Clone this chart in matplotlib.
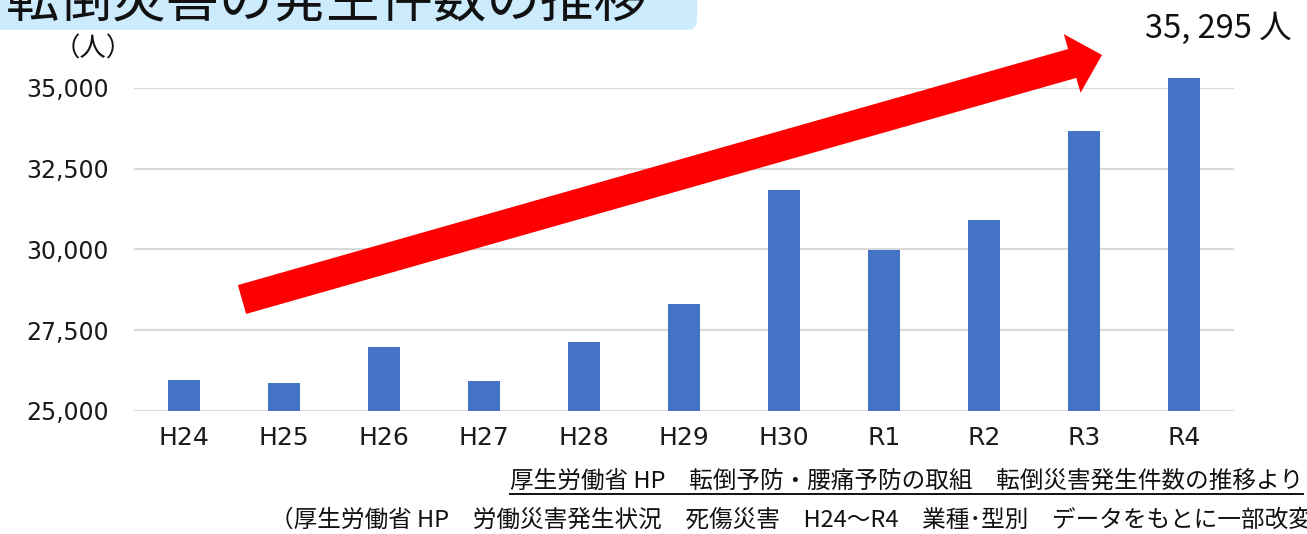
import numpy as np
import matplotlib
matplotlib.use("Agg")
import matplotlib.pyplot as plt
from matplotlib import font_manager
from matplotlib.patches import Polygon, FancyBboxPatch
from matplotlib.lines import Line2D

plt.rcParams['font.family'] = ['DejaVu Sans', 'Noto Sans CJK JP']

# ---- data ----
categories = ["H24", "H25", "H26", "H27", "H28", "H29", "H30", "R1", "R2", "R3", "R4"]
values = [25950, 25880, 26990, 25940, 27140, 28320, 31850, 29990, 30920, 33680, 35295]
yticks = [25000, 27500, 30000, 32500, 35000]
title = "転倒災害の発生件数の推移"
unit_label = "（人）"
callout = "35, 295 人"
source1 = "厚生労働省 HP　転倒予防・腰痛予防の取組　転倒災害発生件数の推移より"
source2 = "（厚生労働省 HP　労働災害発生状況　死傷災害　H24～R4　業種･型別　データをもとに一部改変）"

W, H = 1307, 534
fig = plt.figure(figsize=(W / 100, H / 100), dpi=100)
fig.patch.set_facecolor("white")

def px(x, y):
    """image pixel coords (y down) -> inches for dpi_scale_trans"""
    return (x / 100.0, (H - y) / 100.0)

ax = fig.add_axes([134 / W, (H - 411) / H, 1100 / W, (411 - 88) / H])
x = np.arange(len(categories))
base = yticks[0]
ax.bar(x, np.array(values) - base, bottom=base, width=0.32, color="#4472C4",
       clip_on=False, zorder=3)
ax.set_xlim(-0.5, len(categories) - 0.5)
ax.set_ylim(yticks[0], yticks[-1])
ax.set_yticks(yticks)
ax.set_yticklabels([f"{v:,}" for v in yticks])
ax.set_xticks(x)
ax.set_xticklabels(categories)
for s in ax.spines.values():
    s.set_visible(False)
ax.yaxis.grid(True, color="#D9D9D9", lw=1.6)
ax.set_axisbelow(True)
ax.tick_params(axis="y", length=0, pad=18, labelsize=17, labelcolor="#1a1a1a")
ax.tick_params(axis="x", length=0, pad=11, labelsize=18, labelcolor="#1a1a1a")
ax.set_facecolor("none")

# ---- title box ----
bx0, by0 = px(-30, 30)
box = FancyBboxPatch((bx0, by0), (697 + 30) / 100.0, 0.8,
                     boxstyle="round,pad=0,rounding_size=0.1",
                     transform=fig.dpi_scale_trans, facecolor="#CCEBFC",
                     edgecolor="none", zorder=0)
fig.patches.append(box)
tx, ty = px(6, 16)
fig.text(tx, ty, title, transform=fig.dpi_scale_trans, fontsize=38.5,
         family=['Noto Sans CJK JP'], ha="left", va="baseline", color="#111111")

# unit label
ux, uy = px(93, 49)
fig.text(ux, uy, unit_label, transform=fig.dpi_scale_trans, fontsize=19,
         family=['Noto Sans CJK JP'], ha="center", va="center", color="#111111")

# ---- red arrow ----
def arrow_poly(tail, tip, shaft_w, head_w, head_l):
    t = np.array(tail, float); p = np.array(tip, float)
    d = p - t
    L = np.hypot(*d)
    u = d / L
    n = np.array([-u[1], u[0]])
    b = p - u * head_l
    pts = [t + n * shaft_w / 2, b + n * shaft_w / 2, b + n * head_w / 2, p,
           b - n * head_w / 2, b - n * shaft_w / 2, t - n * shaft_w / 2]
    return [px(q[0], q[1]) for q in pts]

poly = Polygon(arrow_poly((242, 299.5), (1102, 55), 30, 61, 31), closed=True,
               transform=fig.dpi_scale_trans, facecolor="#FF0000",
               edgecolor="none", zorder=5)
fig.patches.append(poly)

# ---- callout ----
names = {f.name for f in font_manager.fontManager.ttflist}
if "Liberation Sans Narrow" in names:
    c_family, c_size = ['Liberation Sans Narrow', 'Noto Sans CJK JP'], 28
else:
    c_family, c_size = ['Noto Sans CJK JP'], 23.5
cx, cy = px(1145, 29)
fig.text(cx, cy, callout, transform=fig.dpi_scale_trans, fontsize=c_size,
         family=c_family, ha="left", va="center", color="#111111")

# ---- sources ----
s1x, s1y = px(1303, 481)
t1 = fig.text(s1x, s1y, source1, transform=fig.dpi_scale_trans, fontsize=17,
              family=['Noto Sans CJK JP'], ha="right", va="center", color="#111111")
s2x, s2y = px(270, 520)
fig.text(s2x, s2y, source2, transform=fig.dpi_scale_trans, fontsize=17,
         family=['Noto Sans CJK JP'], ha="left", va="center", color="#111111")

fig.canvas.draw()
bb = t1.get_window_extent(renderer=fig.canvas.get_renderer())
uy_in = (H - 494) / 100.0
fig.add_artist(Line2D([bb.x0 / 100.0, bb.x1 / 100.0], [uy_in, uy_in],
                      transform=fig.dpi_scale_trans, color="#111111", lw=1.4))

fig.savefig("out.png", dpi=100)
